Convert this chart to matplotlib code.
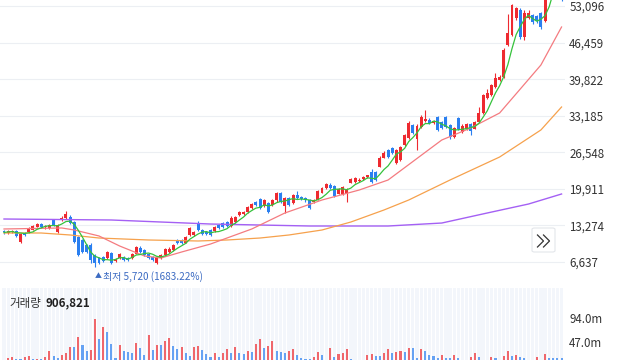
import numpy as np
import pandas as pd
import matplotlib
matplotlib.use('Agg')
import matplotlib.pyplot as plt
from matplotlib.patches import FancyBboxPatch
from matplotlib.lines import Line2D

plt.rcParams['font.family'] = ['Noto Sans CJK KR', 'DejaVu Sans']

# candle data (KRW)
opens = [12300, 11900, 12000, 12300, 10300, 11900, 12000, 12500, 13000, 13600,
         12900, 12800, 14200, 12000, 14200, 14700, 14800, 13900, 11200, 10600,
         9700, 9700, 7900, 7400, 7500, 7400, 8300, 6800, 7400, 7600,
         7400, 7300, 8100, 9200, 8800, 8100, 7500, 6500, 7400, 7900,
         8500, 8800, 10600, 10700, 10100, 11500, 11600, 13700, 12400, 12100,
         12400, 12300, 13400, 13700, 13900, 13100, 13900, 15100, 15400, 15700,
         16400, 17500, 18000, 16800, 17300, 17000, 17800, 19200, 16800, 18300,
         17300, 18800, 18400, 18200, 17900, 17500, 17900, 19200, 20000, 20600,
         20500, 19000, 18900, 19000, 21000, 21100, 21300, 21700, 22000, 23000,
         23000, 23900, 25600, 27000, 27300, 24600, 25200, 27900, 29100, 31500,
         29000, 31100, 32200, 32500, 31800, 33000, 32000, 32900, 31500, 29300,
         32700, 30200, 30800, 31700, 30800, 32100, 33600, 36400, 37000, 38400,
         39700, 40300, 46000, 47800, 50900, 52400, 47400, 51000, 51400, 51200,
         51800, 50400, 55000, 60000, 63000, 61000]
highs = [12500, 12400, 12500, 12400, 11900, 12100, 13000, 13300, 13800, 13800,
         13300, 13500, 14400, 13500, 14900, 15900, 15100, 14000, 11400, 10800,
         9900, 10000, 8100, 7600, 7700, 8700, 8500, 7400, 8200, 7800,
         7500, 8300, 9600, 9500, 9000, 8300, 7700, 7700, 8100, 9200,
         9300, 9900, 10800, 10900, 11400, 13000, 12200, 14000, 12600, 12300,
         12600, 13100, 13600, 13900, 14000, 14900, 15000, 15900, 15900, 16800,
         17300, 17700, 18200, 18100, 17500, 18100, 19300, 19400, 18500, 18500,
         19000, 19600, 18600, 18400, 18100, 18100, 19700, 20200, 21000, 20900,
         20700, 20000, 20400, 20000, 21900, 22000, 21800, 22300, 22500, 23600,
         23200, 25800, 26800, 27200, 27500, 27200, 27700, 29900, 32200, 31700,
         31600, 33300, 34300, 32700, 32400, 33200, 32200, 33100, 31700, 31200,
         32900, 31600, 31800, 31900, 32300, 34700, 37200, 38000, 39000, 41000,
         40500, 45400, 51600, 53400, 53000, 52800, 52300, 52300, 51700, 51500,
         52000, 55500, 60500, 63500, 64000, 61500]
lows = [11800, 11800, 11900, 11100, 10100, 11400, 11900, 12400, 12900, 12800,
        12700, 12700, 13100, 11900, 14000, 14500, 13500, 10100, 7700, 8300,
        8300, 6400, 5720, 6300, 6600, 7200, 6300, 6600, 7200, 6900,
        6800, 7100, 8000, 8300, 7700, 7200, 6800, 6300, 7200, 7800,
        8300, 8600, 9900, 9900, 10000, 11400, 11400, 12300, 11600, 11500,
        11400, 12100, 12600, 12800, 12900, 13000, 13700, 15000, 15200, 15500,
        16200, 16800, 16200, 16600, 15500, 16800, 17600, 17300, 15600, 16800,
        17100, 18100, 17800, 17600, 16300, 17300, 17800, 19100, 19900, 19900,
        18500, 18900, 18800, 17500, 20900, 21000, 21100, 21600, 21900, 21000,
        21300, 23800, 25500, 25500, 26200, 24400, 25000, 27700, 29000, 29800,
        26900, 31000, 32000, 31700, 31600, 30400, 30700, 30900, 28900, 29100,
        30600, 30000, 30600, 29700, 30700, 32000, 33500, 36200, 36800, 38200,
        39400, 40100, 45800, 47600, 50600, 47200, 47000, 50800, 49900, 50000,
        49000, 50200, 54600, 59500, 61500, 54000]
closes = [12000, 12200, 12300, 11300, 11700, 11600, 12800, 13100, 13600, 13000,
          13100, 13300, 13300, 13300, 14700, 15300, 13700, 10300, 7900, 8500,
          8500, 7000, 6500, 6500, 6800, 8500, 6500, 7200, 8000, 7000,
          7000, 8100, 9400, 8500, 7900, 7400, 7000, 7500, 7900, 9000,
          9000, 9700, 10100, 10100, 11200, 12800, 12000, 12500, 11800, 11700,
          11600, 12900, 12800, 13000, 13100, 14700, 14800, 15700, 15700, 16600,
          17100, 17000, 16400, 17900, 15700, 17900, 19100, 17500, 18300, 17000,
          18800, 18300, 18000, 17800, 16500, 17900, 19500, 20000, 20800, 20100,
          18700, 19800, 20200, 19900, 21700, 21800, 21600, 22100, 22400, 21200,
          21500, 25500, 26500, 25700, 26400, 27000, 27500, 29700, 31900, 30000,
          31300, 33000, 32600, 31900, 32200, 30600, 30900, 31100, 29400, 31000,
          30800, 31400, 31600, 30400, 32000, 33700, 36900, 37300, 38700, 40000,
          40200, 45200, 48200, 53200, 52700, 47500, 51800, 51900, 50200, 50300,
          49300, 55000, 60000, 63000, 62000, 55200]

# volume (millions)
volumes = [10, 15, 18, 13.7, 13.5, 18, 20, 13.7, 14.5, 14,
           18, 29, 20, 16.5, 21.5, 26, 38, 36.5, 57, 41,
           30, 31, 92, 53, 76, 66.6, 44, 16.5, 41, 29,
           27, 26, 46, 35, 21.5, 60, 31, 42, 41, 49.6,
           54.8, 39, 33, 36.5, 26, 20, 36.5, 39, 31, 23.5,
           18, 26, 18, 26, 33, 26, 38, 26, 23.5, 29,
           28, 43, 52, 35, 39, 49, 29, 27, 26, 29,
           33, 21, 15, 14.5, 13.7, 18, 28, 21, 12, 35,
           18, 24, 25, 33, 14, 12, 10, 10, 22, 24,
           20, 19, 25, 34, 25, 27, 30, 27, 35, 35,
           16, 34, 30, 21, 20, 16, 21, 15, 15, 21,
           15, 12, 10, 17, 26, 18, 10, 10, 18, 16,
           10, 19, 30, 19, 21, 17, 15, 10, 10, 18,
           10, 24, 16, 16, 16, 16]

# moving averages read at a few candles
ma20_idx = [0, 14, 17, 23, 28, 34, 38, 43, 50, 60, 68, 77, 86, 93, 106, 113, 120, 125, 130, 135]
ma20_val = [12630, 12810, 12450, 11360, 9540, 7730, 7360, 8450, 9900, 12630,
            15530, 17890, 19700, 21520, 28780, 30960, 33680, 38030, 42390, 49290]
ma60_idx = [0, 9, 16, 23, 35, 47, 54, 62, 69, 77, 84, 92, 98, 108, 120, 130, 135]
ma60_val = [11900, 11900, 11540, 10990, 10630, 10450, 10630, 10990, 11540, 12445,
            13897, 16075, 17890, 21520, 25690, 30600, 34770]
ma120_idx = [0, 26, 50, 74, 93, 106, 117, 127, 135]
ma120_val = [14440, 14260, 13530, 13170, 13170, 13710, 15530, 17160, 18980]

price_ticks = [6637, 13274, 19911, 26548, 33185, 39822, 46459, 53096]
vol_ticks = [47, 94]
vol_labels = ['47.0m', '94.0m']

RED = '#ee2a30'
BLUE = '#2a7ff0'

o = np.array(opens); h = np.array(highs); l = np.array(lows); c = np.array(closes)
v = np.array(volumes)
n = len(c)
x = np.arange(n)
up = c >= o
cols = np.where(up, RED, BLUE)
ma5 = pd.Series(c).rolling(5, min_periods=1).mean()

fig = plt.figure(figsize=(6.4, 3.6), dpi=100)
ax = fig.add_axes([0, 1 - 285 / 360, 565 / 640, 285 / 360])
axv = fig.add_axes([0, 0, 565 / 640, 72 / 360])

xlim = (-4 / 4.13, 561 / 4.13)

# price panel
ax.vlines(x, l, h, colors=cols, lw=0.8, zorder=2)
ax.bar(x, np.maximum(np.abs(c - o), 80), bottom=np.minimum(o, c), width=0.72,
       color=cols, zorder=2.5)
ax.plot(ma120_idx, ma120_val, color='#a460f4', lw=1.0, zorder=3)
ax.plot(ma60_idx, ma60_val, color='#f6a14c', lw=0.9, zorder=3)
ax.plot(ma20_idx, ma20_val, color='#f47b80', lw=0.9, zorder=3)
ax.plot(x, ma5, color='#35c23c', lw=0.9, zorder=4)

ax.set_xlim(*xlim)
ax.set_ylim(2462, 54190)
ax.set_xticks([])
ax.set_yticks(price_ticks)
ax.set_yticklabels(['{:,}'.format(t) for t in price_ticks])
ax.yaxis.tick_right()
ax.tick_params(axis='y', length=0, pad=3, labelsize=8.3, labelcolor='#333333')
ax.grid(axis='y', color='#eceff3', lw=0.8)
ax.set_axisbelow(True)
for s in ax.spines.values():
    s.set_visible(False)

ilow = int(np.argmin(l))
ax.annotate('▲', xy=(ilow, l[ilow]), xytext=(0, -9), textcoords='offset pixels',
            ha='left', va='center', fontsize=5, color='#3c6bc2')
ax.annotate('최저 5,720 (1683.22%)', xy=(ilow, l[ilow]), xytext=(8, -9),
            textcoords='offset pixels', ha='left', va='center', fontsize=7.2,
            color='#3c6bc2')

# volume panel
vcols = [RED if i > 0 and v[i] > v[i - 1] else BLUE for i in range(n)]
axv.bar(x, 200, width=0.78, color='#f3f6fb', zorder=0)
axv.bar(x, v, width=0.5, color=vcols, alpha=0.7, zorder=2)
axv.set_xlim(*xlim)
axv.set_ylim(11.75, 152.75)
axv.set_xticks([])
axv.set_yticks(vol_ticks)
axv.set_yticklabels(vol_labels)
axv.yaxis.tick_right()
axv.tick_params(axis='y', length=0, pad=3, labelsize=8.3, labelcolor='#333333')
for s in axv.spines.values():
    s.set_visible(False)

fig.text(9 / 640, 1 - 303 / 360, '거래량', ha='left', va='center', fontsize=8.3,
         color='#333333')
fig.text(45 / 640, 1 - 303 / 360, '906,821', ha='left', va='center', fontsize=8.3,
         color='#222222', fontweight='bold')

# scroll button
btn = FancyBboxPatch((532 / 640, 1 - 252 / 360), 23 / 640, 24 / 360,
                     boxstyle='round,pad=0,rounding_size=0.004',
                     transform=fig.transFigure, facecolor='white',
                     edgecolor='#e3e6ea', lw=0.8, zorder=10)
fig.add_artist(btn)
for x0 in (537.5, 543.5):
    fig.add_artist(Line2D([x0 / 640, (x0 + 6) / 640, x0 / 640],
                          [1 - 235 / 360, 1 - 241 / 360, 1 - 247 / 360],
                          transform=fig.transFigure, color='#333333', lw=0.9,
                          zorder=11))

fig.savefig('out.png', dpi=100)
plt.close(fig)
